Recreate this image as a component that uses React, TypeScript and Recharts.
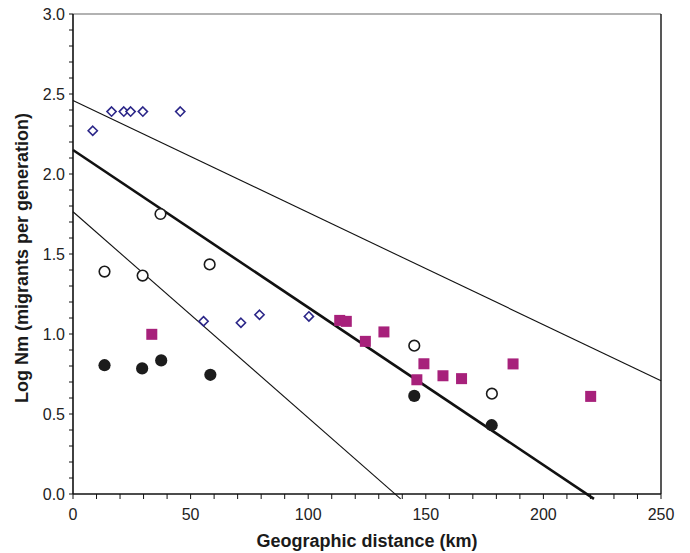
import React from 'react';
import {
  ScatterChart,
  Scatter,
  XAxis,
  YAxis,
  ReferenceLine,
} from 'recharts';

// ---------- data ----------
const diamondX = [8.4, 16.4, 21.6, 24.5, 29.7, 45.6, 55.5, 71.4, 79.3, 100.3];
const diamondY = [2.27, 2.39, 2.39, 2.39, 2.39, 2.39, 1.08, 1.07, 1.12, 1.11];

const openCircleX = [13.4, 29.6, 37.2, 58.1, 145.1, 178.1];
const openCircleY = [1.39, 1.365, 1.75, 1.435, 0.927, 0.627];

const filledCircleX = [13.4, 29.4, 37.5, 58.4, 145.1, 178.0];
const filledCircleY = [0.805, 0.785, 0.835, 0.745, 0.613, 0.43];

const squareX = [33.5, 113.4, 116.2, 124.3, 132.2, 146.2, 149.2, 157.3, 165.2, 187.1, 220.1];
const squareY = [0.998, 1.085, 1.079, 0.954, 1.013, 0.714, 0.814, 0.739, 0.721, 0.813, 0.61];

// regression lines: [x1, y1, x2, y2]
const upperLine = [0, 2.46, 250, 0.708];
const middleLine = [0, 2.15, 221.5, -0.03];
const lowerLine = [0, 1.764, 139.3, -0.03];

const xTicks = [0, 10, 20, 30, 40, 50, 60, 70, 80, 90, 100, 110, 120, 130, 140, 150, 160, 170, 180, 190, 200, 210, 220, 230, 240, 250];
const xMajor = [0, 50, 100, 150, 200, 250];
const yTicks = [0, 0.1, 0.2, 0.3, 0.4, 0.5, 0.6, 0.7, 0.8, 0.9, 1, 1.1, 1.2, 1.3, 1.4, 1.5, 1.6, 1.7, 1.8, 1.9, 2, 2.1, 2.2, 2.3, 2.4, 2.5, 2.6, 2.7, 2.8, 2.9, 3];
const yMajor = [0, 0.5, 1, 1.5, 2, 2.5, 3];

const xTitle = 'Geographic distance (km)';
const yTitle = 'Log Nm (migrants per generation)';

const zip = (xs: number[], ys: number[]) => xs.map((x, i) => ({ x, y: ys[i] }));

const diamonds = zip(diamondX, diamondY);
const openCircles = zip(openCircleX, openCircleY);
const filledCircles = zip(filledCircleX, filledCircleY);
const squares = zip(squareX, squareY);

// ---------- shapes ----------
const DiamondShape = (p: any) => {
  const { cx, cy } = p;
  const r = 4.6;
  return (
    <path
      d={`M${cx},${cy - r} L${cx + r},${cy} L${cx},${cy + r} L${cx - r},${cy} Z`}
      fill="#fff"
      stroke="#2b2688"
      strokeWidth={1.6}
    />
  );
};
const OpenCircleShape = (p: any) => (
  <circle cx={p.cx} cy={p.cy} r={5.3} fill="#fff" stroke="#1a1a1a" strokeWidth={1.6} />
);
const FilledCircleShape = (p: any) => (
  <circle cx={p.cx} cy={p.cy} r={6.1} fill="#1c1c1c" />
);
const SquareShape = (p: any) => (
  <rect x={p.cx - 5.5} y={p.cy - 5.5} width={11} height={11} fill="#a7217b" />
);

const fontFamily = '"Liberation Sans", Arial, Helvetica, sans-serif';

const YTitle = (props: any) => {
  const vb = props.viewBox || { x: 0, y: 14, width: 73, height: 480 };
  const x = vb.x + 28;
  const y = vb.y + vb.height / 2 + 4;
  return (
    <text
      x={x}
      y={y}
      transform={`rotate(-90, ${x}, ${y})`}
      textAnchor="middle"
      fontFamily={fontFamily}
      fontWeight="bold"
      fontSize={18}
      fill="#1a1a1a"
    >
      {yTitle}
    </text>
  );
};

export default function App() {
  return (
    <div style={{ position: 'absolute', left: 0, top: 0, width: 690, height: 553, background: '#fff' }}>
      <ScatterChart
        width={690}
        height={553}
        margin={{ top: 14, right: 29, bottom: 0, left: 0 }}
      >
        <XAxis
          type="number"
          dataKey="x"
          domain={[0, 250]}
          ticks={xTicks}
          interval={0}
          allowDataOverflow
          height={59}
          tickSize={5}
          tickMargin={10}
          axisLine={{ stroke: '#111', strokeWidth: 1.6 }}
          tickLine={{ stroke: '#111', strokeWidth: 1 }}
          tick={{ fontFamily, fontSize: 16, fill: '#222' }}
          tickFormatter={(v: number) => (xMajor.includes(v) ? String(v) : '')}
          label={{
            value: xTitle,
            position: 'insideBottom',
            offset: 6,
            style: { fontFamily, fontWeight: 'bold', fontSize: 18, fill: '#1a1a1a' },
          }}
        />
        <YAxis
          type="number"
          dataKey="y"
          domain={[0, 3]}
          ticks={yTicks}
          interval={0}
          allowDataOverflow
          width={73}
          tickSize={4}
          tickMargin={4}
          axisLine={{ stroke: '#111', strokeWidth: 1.6 }}
          tickLine={{ stroke: '#111', strokeWidth: 1 }}
          tick={{ fontFamily, fontSize: 16, fill: '#222' }}
          tickFormatter={(v: number) =>
            yMajor.some((m) => Math.abs(m - v) < 1e-6) ? v.toFixed(1) : ''
          }
          label={{ content: YTitle }}
        />
        <ReferenceLine y={3} stroke="#666" strokeWidth={1.2} />
        <ReferenceLine x={250} stroke="#111" strokeWidth={1.4} />
        <ReferenceLine
          segment={[{ x: upperLine[0], y: upperLine[1] }, { x: upperLine[2], y: upperLine[3] }]}
          stroke="#111"
          strokeWidth={1.1}
          ifOverflow="visible"
        />
        <ReferenceLine
          segment={[{ x: middleLine[0], y: middleLine[1] }, { x: middleLine[2], y: middleLine[3] }]}
          stroke="#111"
          strokeWidth={2.6}
          ifOverflow="visible"
        />
        <ReferenceLine
          segment={[{ x: lowerLine[0], y: lowerLine[1] }, { x: lowerLine[2], y: lowerLine[3] }]}
          stroke="#111"
          strokeWidth={1.1}
          ifOverflow="visible"
        />
        <Scatter data={diamonds} shape={DiamondShape} isAnimationActive={false} />
        <Scatter data={openCircles} shape={OpenCircleShape} isAnimationActive={false} />
        <Scatter data={filledCircles} shape={FilledCircleShape} isAnimationActive={false} />
        <Scatter data={squares} shape={SquareShape} isAnimationActive={false} />
      </ScatterChart>
    </div>
  );
}
